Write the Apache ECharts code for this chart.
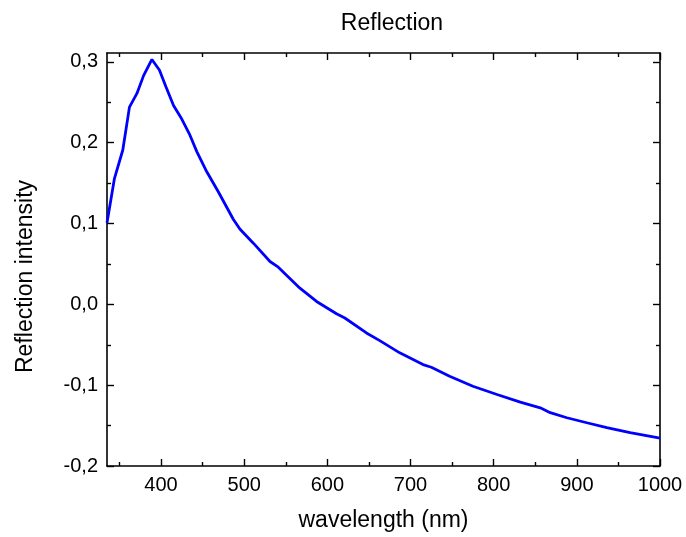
<!DOCTYPE html>
<html>
<head>
<meta charset="utf-8">
<script src="https://cdn.jsdelivr.net/npm/echarts@6/dist/echarts.min.js"></script>
<style>html,body{margin:0;padding:0;background:#fff}#c{width:686px;height:537px}</style>
</head>
<body>
<div id="c"></div>
<script>
const wavelength = [335,344,354,362,371,379,389,398,406,415,424,434,443,455,469,487,495,511,531,541,567,587,611,621,647,663,687,715,725,747,775,804,832,856,868,888,912,936,964,1000];
const reflection = [0.101,0.156,0.191,0.244,0.261,0.283,0.303,0.290,0.269,0.246,0.231,0.211,0.189,0.164,0.139,0.105,0.093,0.0757,0.053,0.046,0.020,0.0036,-0.0116,-0.0169,-0.0354,-0.0449,-0.060,-0.0745,-0.0778,-0.089,-0.1013,-0.1115,-0.121,-0.128,-0.134,-0.1403,-0.1465,-0.1526,-0.1588,-0.1655];
const xMajorTicks = [400,500,600,700,800,900,1000];
const xMinorTicks = [350,450,550,650,750,850,950];
const yMajorTicks = [-0.2,-0.1,0.0,0.1,0.2,0.3];
const yMinorTicks = [-0.15,-0.05,0.05,0.15,0.25];
const titleText = 'Reflection';
const xName = 'wavelength (nm)';
const yName = 'Reflection intensity';

const FONT = 'Liberation Sans, Arial, sans-serif';
const lineStyle = {color:'#000', width:1.6};
function xAx(pos, ticks, len, showLine, labels) {
  return {
    type:'value', position:pos, min:335, max:1000,
    axisLine:{show:showLine, lineStyle:lineStyle, onZero:false},
    axisTick:{show:true, inside:true, length:len, customValues:ticks, lineStyle:{color:'#000', width:1.4}},
    axisLabel: labels ? {show:true, customValues:ticks, color:'#000', fontFamily:FONT, fontSize:20, margin:9,
      formatter: v => String(Math.round(v))} : {show:false},
    splitLine:{show:false}
  };
}
function yAx(pos, ticks, len, showLine, labels) {
  return {
    type:'value', position:pos, min:-0.2, max:0.311,
    axisLine:{show:showLine, lineStyle:lineStyle, onZero:false},
    axisTick:{show:true, inside:true, length:len, customValues:ticks, lineStyle:{color:'#000', width:1.4}},
    axisLabel: labels ? {show:true, customValues:ticks, color:'#000', fontFamily:FONT, fontSize:20, margin:9,
      formatter: v => (Math.abs(v) < 1e-9 ? 0 : v).toFixed(1).replace('.', ',')} : {show:false},
    splitLine:{show:false}
  };
}
const xs = [xAx('bottom', xMajorTicks, 7, true, true), xAx('bottom', xMinorTicks, 4, false, false),
            xAx('top', xMajorTicks, 7, true, false), xAx('top', xMinorTicks, 4, false, false)];
xs[0].name = xName; xs[0].nameLocation = 'middle'; xs[0].nameGap = 43;
xs[0].nameTextStyle = {color:'#000', fontFamily:FONT, fontSize:23};
const ys = [yAx('left', yMajorTicks, 7, true, true), yAx('left', yMinorTicks, 4, false, false),
            yAx('right', yMajorTicks, 7, true, false), yAx('right', yMinorTicks, 4, false, false)];
ys[0].name = yName; ys[0].nameLocation = 'middle'; ys[0].nameGap = 70;
ys[0].nameTextStyle = {color:'#000', fontFamily:FONT, fontSize:23, padding:[0,34,0,0]};

const chart = echarts.init(document.getElementById('c'), null, {renderer:'canvas'});
chart.setOption({
  animation:false,
  backgroundColor:'#fff',
  title:{text:titleText, left:387, textAlign:'center', top:7, textStyle:{color:'#000', fontFamily:FONT, fontSize:23, fontWeight:'normal'}},
  grid:{left:107, right:26, top:53, bottom:70, containLabel:false},
  xAxis: xs,
  yAxis: ys,
  series:[{
    type:'line', xAxisIndex:0, yAxisIndex:0,
    data: wavelength.map((w,i)=>[w, reflection[i]]),
    showSymbol:false, symbol:'none',
    lineStyle:{color:'#0000ff', width:2.8}, itemStyle:{color:'#0000ff'}
  }]
});
</script>
</body>
</html>
